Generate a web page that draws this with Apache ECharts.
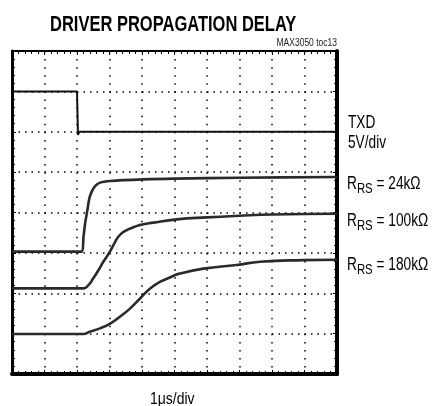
<!DOCTYPE html>
<html><head><meta charset="utf-8">
<script src="https://cdn.jsdelivr.net/npm/echarts@6/dist/echarts.min.js"></script>
<style>html,body{margin:0;padding:0;background:#fff}#c{width:434px;height:406px}</style>
</head><body><div id="c"></div>
<script>
// Time in divisions (1 µs/div), amplitude in divisions
const txdT = [0, 2.0, 2.03, 2.07, 10];
const txdV = [7, 7, 5.92, 6.0, 6.0];
const r24T = [0, 2.14, 2.2, 2.25, 2.32, 2.38, 2.45, 2.55, 2.71, 3.02, 4.04, 5.0, 7.0, 10];
const r24V = [3.03, 3.03, 3.4, 3.73, 4.06, 4.35, 4.51, 4.65, 4.74, 4.78, 4.82, 4.84, 4.86, 4.88];
const r100T = [0, 2.2, 2.35, 2.5, 2.66, 2.81, 2.99, 3.12, 3.27, 3.43, 3.63, 3.94, 4.35, 5.07, 6, 7, 8, 10];
const r100V = [2.12, 2.12, 2.2, 2.37, 2.57, 2.78, 3.0, 3.19, 3.4, 3.52, 3.6, 3.69, 3.75, 3.83, 3.88, 3.92, 3.95, 3.97];
const r180T = [0, 2.2, 2.4, 2.71, 3.02, 3.32, 3.63, 3.94, 4.25, 4.55, 4.86, 5.12, 5.89, 6.91, 7.63, 8.96, 10];
const r180V = [0.99, 0.99, 1.05, 1.13, 1.25, 1.42, 1.62, 1.87, 2.12, 2.28, 2.39, 2.48, 2.61, 2.70, 2.78, 2.82, 2.83];
const labels = ['TXD', '5V/div', '24kΩ', '100kΩ', '180kΩ'];
const titleText = 'DRIVER PROPAGATION DELAY';
const noteText = 'MAX3050 toc13';
const xUnitText = '1μs/div';

const zip = (a, b) => a.map((x, i) => [x, b[i]]);
const FONT = "'Liberation Sans', Arial, sans-serif";

const chart = echarts.init(document.getElementById('c'), null, {renderer: 'canvas'});
const gridL = 12, gridT = 51, gridW = 325, gridH = 323;

function xAx(pos, w) {
  return {type: 'value', position: pos, min: 0, max: 10, interval: 1,
    axisLine: {show: true, onZero: false, lineStyle: {color: '#000', width: w}},
    axisTick: {show: true, inside: true, length: 4, lineStyle: {color: '#000', width: 1}},
    minorTick: {show: true, splitNumber: 5, length: 3, lineStyle: {color: '#000', width: 1}},
    axisLabel: {show: false},
    splitLine: {show: pos === 'bottom', lineStyle: {color: '#000', width: 1.5, type: [1.5, 6.58]}},
    minorSplitLine: {show: false}};
}
function yAx(pos, w) {
  return {type: 'value', position: pos, min: 0, max: 8, interval: 1,
    axisLine: {show: true, onZero: false, lineStyle: {color: '#000', width: w}},
    axisTick: {show: true, inside: true, length: 4, lineStyle: {color: '#000', width: 1}},
    minorTick: {show: true, splitNumber: 5, length: 3, lineStyle: {color: '#000', width: 1}},
    axisLabel: {show: false},
    splitLine: {show: pos === 'left', lineStyle: {color: '#000', width: 1.5, type: [1.5, 5]}}};
}
function ser(t, v, w, c, sm) {
  return {type: 'line', data: zip(t, v), showSymbol: false, smooth: sm, silent: true,
    lineStyle: {color: c, width: w}, animation: false, z: 5};
}
// condensed text helper (font is horizontally scaled to mimic a narrow face)
function ctext(str, x, y, size, sx, opts) {
  opts = opts || {};
  return {type: 'text', x: x, y: y, scaleX: sx, scaleY: 1, z: 10,
    style: Object.assign({text: str, font: (opts.weight || 'normal') + ' ' + size + 'px ' + FONT,
      fill: opts.fill || '#000', align: opts.align || 'left', verticalAlign: 'middle'}, opts.style || {})};
}
const rsLabel = (val) => '{n|R}{s|RS}{n| = ' + val + '}';
const rich = {n: {font: '18px ' + FONT, fill: '#000', verticalAlign: 'middle'},
  s: {font: '15px ' + FONT, fill: '#000', padding: [10, 0, 0, 0]}};

chart.setOption({
  animation: false,
  backgroundColor: '#fff',
  grid: {left: gridL, top: gridT, width: gridW, height: gridH},
  xAxis: [xAx('bottom', 4), xAx('top', 2)],
  yAxis: [yAx('left', 3), yAx('right', 4)],
  graphic: [
    ctext(titleText, 50, 25, 22, 0.75, {weight: 'bold'}),
    ctext(noteText, 337, 43.5, 10, 0.85, {align: 'right', fill: '#222'}),
    ctext(xUnitText, 150, 399, 17, 0.82),
    ctext(labels[0], 348, 123, 18, 0.76),
    ctext(labels[1], 348, 143.5, 18, 0.76),
    ctext(rsLabel(labels[2]), 347, 184, 18, 0.76, {style: {rich: rich}}),
    ctext(rsLabel(labels[3]), 347, 221, 18, 0.76, {style: {rich: rich}}),
    ctext(rsLabel(labels[4]), 347, 265, 18, 0.76, {style: {rich: rich}})
  ],
  series: [
    ser(txdT, txdV, 2, '#111', false),
    ser(r24T, r24V, 2.6, '#2a2a2a', 0.3),
    ser(r100T, r100V, 2.6, '#2a2a2a', 0.5),
    ser(r180T, r180V, 2.6, '#2a2a2a', 0.5)
  ]
});
</script></body></html>
